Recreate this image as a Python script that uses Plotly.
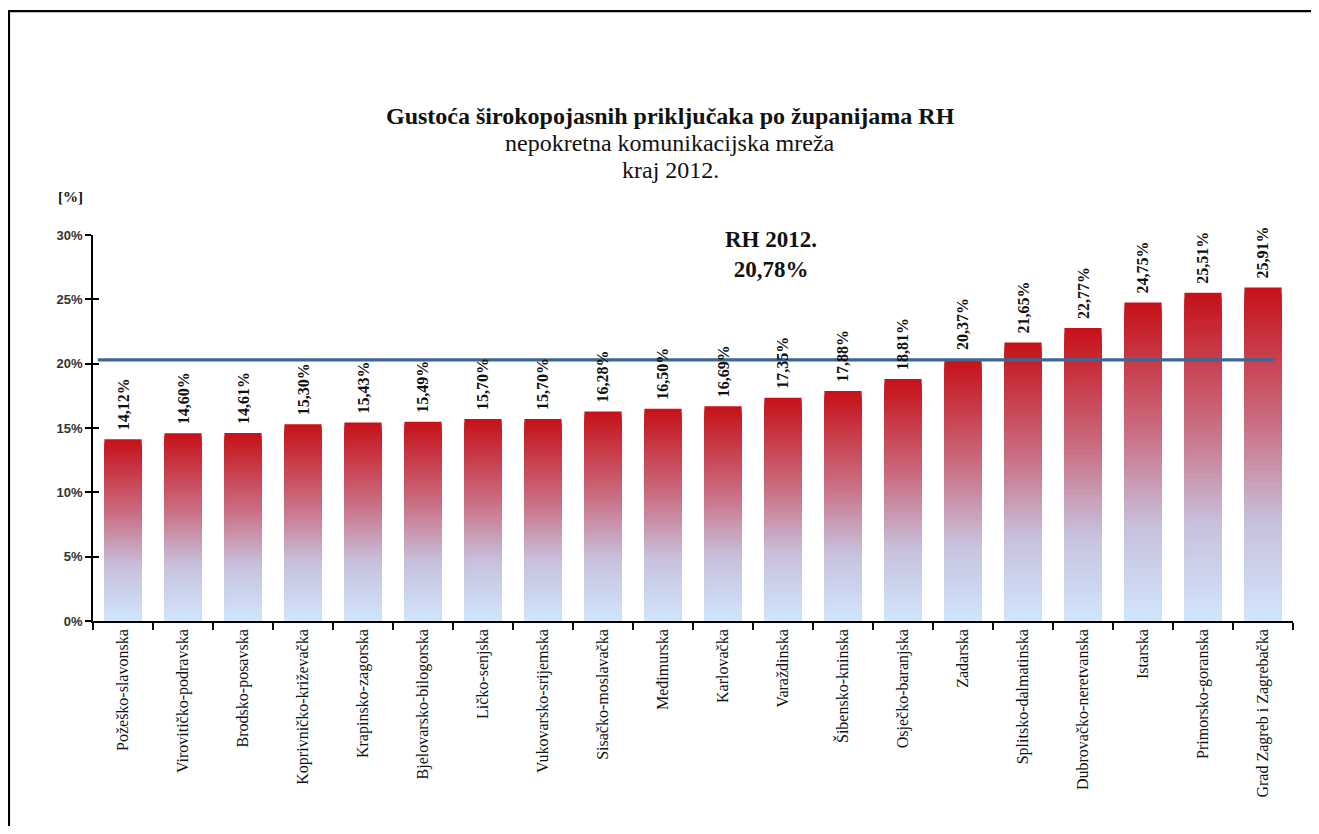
import plotly.graph_objects as go

# ---------------- data ----------------
counties = [
    "Požeško-slavonska", "Virovitičko-podravska", "Brodsko-posavska",
    "Koprivničko-križevačka", "Krapinsko-zagorska", "Bjelovarsko-bilogorska",
    "Ličko-senjska", "Vukovarsko-srijemska", "Sisačko-moslavačka",
    "Međimurska", "Karlovačka", "Varaždinska", "Šibensko-kninska",
    "Osječko-baranjska", "Zadarska", "Splitsko-dalmatinska",
    "Dubrovačko-neretvanska", "Istarska", "Primorsko-goranska",
    "Grad Zagreb i Zagrebačka",
]
density = [14.12, 14.60, 14.61, 15.30, 15.43, 15.49, 15.70, 15.70, 16.28,
           16.50, 16.69, 17.35, 17.88, 18.81, 20.37, 21.65, 22.77, 24.75,
           25.51, 25.91]
rh_value = 20.78          # national value (annotation)
rh_line_level = 20.3      # level at which the reference line is drawn
y_ticks = [0, 5, 10, 15, 20, 25, 30]
y_tick_text = ["0%", "5%", "10%", "15%", "20%", "25%", "30%"]

title_lines = ["Gustoća širokopojasnih priključaka po županijama RH",
               "nepokretna komunikacijska mreža", "kraj 2012."]

# ---------------- style ----------------
SERIF = "Liberation Serif, Times New Roman, serif"
SANS = "Liberation Sans, Arial, sans-serif"

# gradient stops (fraction of bar height -> rgb)
stops = [(0.0, (208, 230, 252)), (0.30, (200, 192, 220)),
         (0.60, (202, 108, 128)), (1.0, (198, 16, 24))]


def grad(f):
    for (f0, c0), (f1, c1) in zip(stops[:-1], stops[1:]):
        if f0 <= f <= f1:
            t = (f - f0) / (f1 - f0) if f1 > f0 else 0
            return "rgb(%d,%d,%d)" % tuple(round(a + (b - a) * t) for a, b in zip(c0, c1))
    return "rgb(%d,%d,%d)" % stops[-1][1]


fig = go.Figure()

N = 60
for k in range(N):
    frac = (N - k) / N
    fig.add_trace(go.Bar(
        x=counties,
        y=[v * frac for v in density],
        marker=dict(color=grad(frac - 0.5 / N), line=dict(width=0)),
        showlegend=False,
        hoverinfo="skip" if k else "x+y",
    ))

# value labels
for c, v in zip(counties, density):
    fig.add_annotation(xref="x", yref="y", x=c, y=v, yanchor="bottom",
                       yshift=7, textangle=-90, showarrow=False,
                       text=f"{v:.2f}".replace(".", ",") + "%",
                       font=dict(family=SERIF, size=16, color="#111", weight="bold"))

# hidden trace for an overlaid y axis carrying inside ticks
fig.add_trace(go.Scatter(x=[counties[0]], y=[0], yaxis="y2", mode="markers",
                         marker=dict(opacity=0), showlegend=False, hoverinfo="skip"))

# RH reference line
fig.add_shape(type="line", xref="x", yref="y", x0=-0.42, x1=19.18,
              y0=rh_line_level, y1=rh_line_level,
              line=dict(color="#3c6794", width=3.2))

fig.add_annotation(xref="x", yref="y", x=10.8, y=28.5,
                   text=f"RH 2012.<br>{str(rh_value).replace('.', ',')}%",
                   showarrow=False, align="center",
                   font=dict(family=SERIF, size=23, color="#111", weight="bold"))

# titles
fig.add_annotation(xref="paper", yref="paper", x=0.481, y=1.308, yanchor="middle",
                   text=f"<b>{title_lines[0]}</b>", showarrow=False,
                   font=dict(family=SERIF, size=24, color="#111"))
fig.add_annotation(xref="paper", yref="paper", x=0.481, y=1.238, yanchor="middle",
                   text=title_lines[1], showarrow=False,
                   font=dict(family=SERIF, size=24, color="#111"))
fig.add_annotation(xref="paper", yref="paper", x=0.481, y=1.168, yanchor="middle",
                   text=title_lines[2], showarrow=False,
                   font=dict(family=SERIF, size=24, color="#111"))
fig.add_annotation(xref="paper", yref="paper", x=-0.007, y=1.098, yanchor="middle",
                   xanchor="right", text="<b>[%]</b>", showarrow=False,
                   font=dict(family=SERIF, size=15, color="#111"))

# outer frame
fig.add_shape(type="rect", xref="paper", yref="paper",
              x0=-0.0700, x1=1.05, y0=-0.7, y1=1.580,
              line=dict(color="black", width=2.2), fillcolor="rgba(0,0,0,0)")

fig.update_layout(
    width=1311, height=818,
    margin=dict(l=85, r=26, t=227, b=205),
    paper_bgcolor="white", plot_bgcolor="white",
    barmode="overlay", bargap=0.38,
    xaxis=dict(
        type="category", showgrid=False, zeroline=False,
        showline=True, linecolor="black", linewidth=1.6,
        ticks="outside", ticklen=7, tickwidth=1.6, tickcolor="black",
        tickson="boundaries", tickangle=-90,
        tickfont=dict(family=SERIF, size=16, color="#111"),
        range=[-0.5, 19.5],
    ),
    yaxis=dict(
        range=[0, 30], tickvals=y_ticks, ticktext=y_tick_text,
        showgrid=False, zeroline=False,
        showline=True, linecolor="black", linewidth=1.6,
        ticks="outside", ticklen=6, tickwidth=1.6, tickcolor="black",
        tickfont=dict(family=SANS, size=13, color="#333", weight="bold"),
    ),
    yaxis2=dict(
        overlaying="y", side="left", anchor="x", range=[0, 30], tickvals=y_ticks,
        showticklabels=False, showgrid=False, zeroline=False, showline=False,
        ticks="inside", ticklen=6, tickwidth=1.6, tickcolor="black",
    ),
)

fig.write_html("out.html")
